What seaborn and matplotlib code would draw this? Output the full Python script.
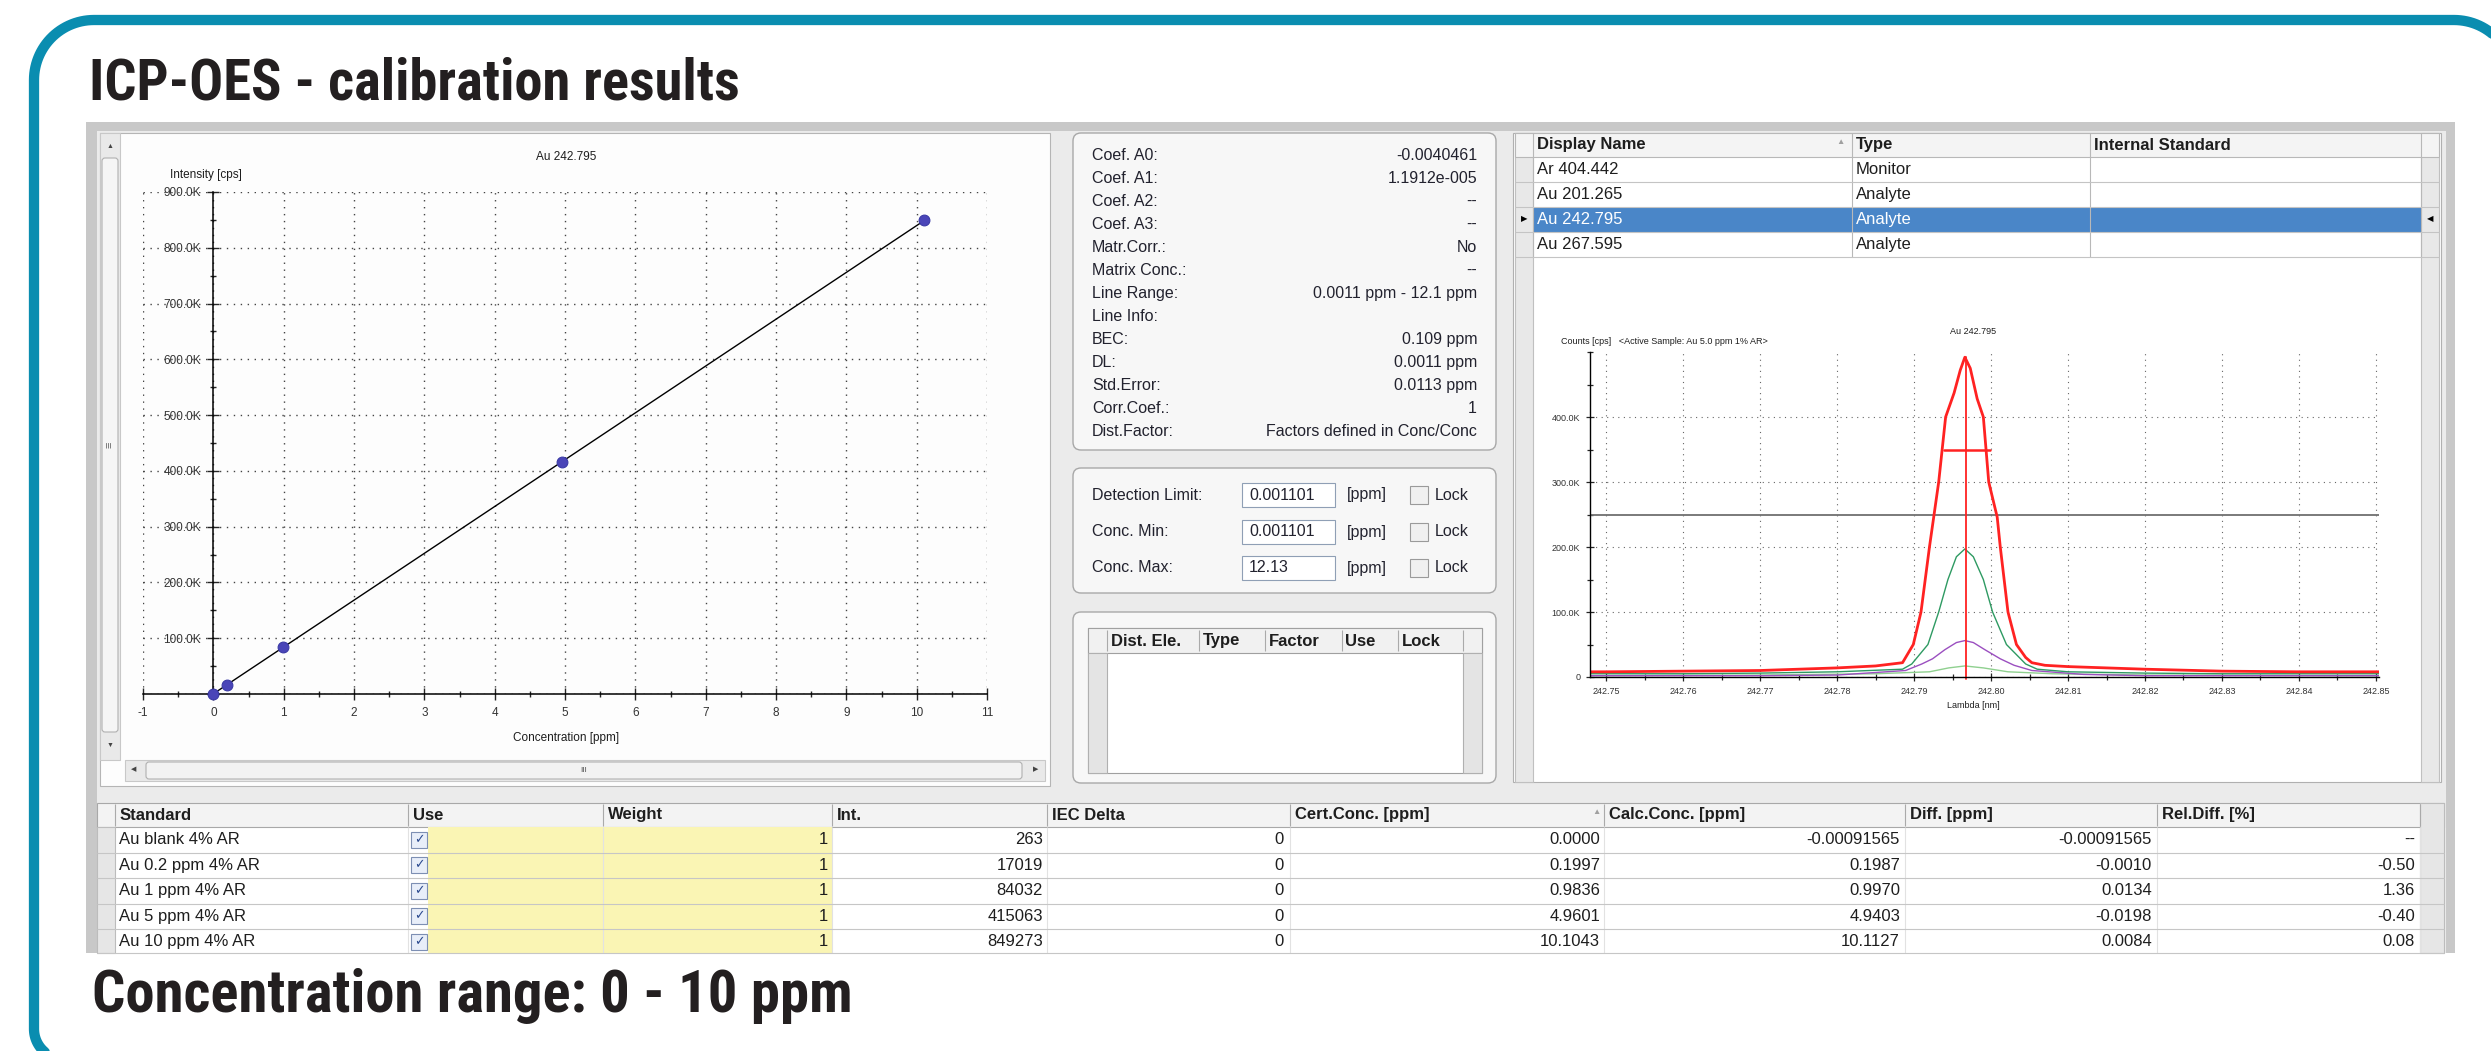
import numpy as np
import matplotlib
matplotlib.use('Agg')
import matplotlib.pyplot as plt
import seaborn as sns
from matplotlib.patches import Rectangle, FancyBboxPatch
from matplotlib.ticker import FuncFormatter
from matplotlib import font_manager

# ---------------- data ----------------
standards = ['Au blank 4% AR', 'Au 0.2 ppm 4% AR', 'Au 1 ppm 4% AR',
             'Au 5 ppm 4% AR', 'Au 10 ppm 4% AR']
weight = [1, 1, 1, 1, 1]
intensity = [263, 17019, 84032, 415063, 849273]
iec_delta = [0, 0, 0, 0, 0]
cert_conc = [0.0000, 0.1997, 0.9836, 4.9601, 10.1043]
calc_conc = [-0.00091565, 0.1987, 0.9970, 4.9403, 10.1127]
diff_ppm = [-0.00091565, -0.0010, 0.0134, -0.0198, 0.0084]
rel_diff = [None, -0.50, 1.36, -0.40, 0.08]

coef_labels = ['Coef. A0:', 'Coef. A1:', 'Coef. A2:', 'Coef. A3:', 'Matr.Corr.:',
               'Matrix Conc.:', 'Line Range:', 'Line Info:', 'BEC:', 'DL:',
               'Std.Error:', 'Corr.Coef.:', 'Dist.Factor:']
coef_values = ['-0.0040461', '1.1912e-005', '--', '--', 'No', '--',
               '0.0011 ppm - 12.1 ppm', '', '0.109 ppm', '0.0011 ppm',
               '0.0113 ppm', '1', 'Factors defined in Conc/Conc']

limit_labels = ['Detection Limit:', 'Conc. Min:', 'Conc. Max:']
limit_values = ['0.001101', '0.001101', '12.13']
dist_headers = ['Dist. Ele.', 'Type', 'Factor', 'Use', 'Lock']

line_names = ['Ar 404.442', 'Au 201.265', 'Au 242.795', 'Au 267.595']
line_types = ['Monitor', 'Analyte', 'Analyte', 'Analyte']
selected_line = 'Au 242.795'

# spectrum of the active sample (wavelength nm, counts in K cps)
lam_red = [242.7479, 242.750, 242.760, 242.770, 242.780, 242.785, 242.7885, 242.7899,
           242.7909, 242.7920, 242.7932, 242.7941, 242.7952, 242.7960, 242.7966, 242.7973,
           242.7982, 242.7990, 242.7997, 242.8008, 242.8012, 242.8022, 242.8033, 242.8045,
           242.8053, 242.8070, 242.810, 242.815, 242.820, 242.830, 242.840, 242.8504]
cnt_red = [8, 8, 9, 10, 14, 17, 22, 50, 100, 200, 300, 400, 437, 472, 492, 475,
           428, 400, 300, 246, 200, 100, 50, 30, 22, 18, 16, 14, 12, 9, 8, 8]
lam_green = [242.7479, 242.760, 242.770, 242.780, 242.7885, 242.7897, 242.7918, 242.7932,
             242.7944, 242.7955, 242.7966, 242.7977, 242.7990, 242.8002, 242.8020, 242.8045,
             242.8060, 242.810, 242.820, 242.830, 242.8504]
cnt_green = [5, 5, 6, 8, 12, 20, 50, 100, 150, 185, 197, 185, 150, 100, 50, 20, 12, 8, 6, 5, 5]
lam_purple = [242.7479, 242.770, 242.780, 242.7889, 242.7910, 242.7924, 242.7940, 242.7955,
              242.7966, 242.7977, 242.7992, 242.8012, 242.8030, 242.8053, 242.812, 242.820,
              242.8504]
cnt_purple = [2, 2, 3, 10, 20, 28, 42, 53, 56, 53, 42, 28, 18, 10, 4, 2, 2]
lam_light = [242.7479, 242.770, 242.7850, 242.7920, 242.7945, 242.7966, 242.7990, 242.8022,
             242.8080, 242.820, 242.8504]
cnt_light = [2, 3, 5, 8, 14, 17, 14, 8, 5, 3, 2]
peak_lambda = 242.7968
peak_top = 492
peak_bar_x = [242.7939, 242.7999]
peak_bar_y = 349
threshold = 249

# ---------------- style ----------------
sns.set_style('white')
plt.rcParams['font.family'] = ['Liberation Sans', 'DejaVu Sans']
plt.rcParams['axes.unicode_minus'] = False

installed = {f.name for f in font_manager.fontManager.ttflist}
narrow = next((n for n in ['Liberation Sans Narrow', 'Roboto Condensed', 'Open Sans Condensed']
               if n in installed), 'Liberation Sans')

W, H = 2491, 1051
fig = plt.figure(figsize=(W / 100, H / 100), dpi=100)
bg = fig.add_axes([0, 0, 1, 1])
bg.set_xlim(0, W)
bg.set_ylim(H, 0)
bg.axis('off')


def box(x0, y0, x1, y1, fc, ec='none', lw=0.8, z=1, r=None):
    if r:
        p = FancyBboxPatch((x0, y0), x1 - x0, y1 - y0, boxstyle=f'round,pad=0,rounding_size={r}',
                           fc=fc, ec=ec, lw=lw, zorder=z)
    else:
        p = Rectangle((x0, y0), x1 - x0, y1 - y0, fc=fc, ec=ec, lw=lw, zorder=z)
    bg.add_patch(p)


def hline(y, x0, x1, c, lw=0.8, z=3):
    bg.plot([x0, x1], [y, y], color=c, lw=lw, zorder=z, solid_capstyle='butt')


def vline(x, y0, y1, c, lw=0.8, z=3):
    bg.plot([x, x], [y0, y1], color=c, lw=lw, zorder=z, solid_capstyle='butt')


def txt(x, y, s, size=11, ha='left', weight='normal', color='#1e1e1e', z=6, **kw):
    return bg.text(x, y, s, fontsize=size, ha=ha, va='center', fontweight=weight,
                   color=color, zorder=z, **kw)


def px_axes(x0, y0, x1, y1):
    a = fig.add_axes([x0 / W, 1 - y1 / H, (x1 - x0) / W, (y1 - y0) / H])
    a.set_facecolor('none')
    return a


def corner(cx, cy, r, a0, a1):
    t = np.linspace(np.radians(a0), np.radians(a1), 30)
    return list(cx + r * np.cos(t)), list(cy - r * np.sin(t))


def fmt_small(v):
    return f'{v:.8f}' if abs(v) < 0.001 else f'{v:.4f}'


# ---------------- frame + headline ----------------
# teal frame: only the top and the left side fall inside the picture
bx, by = [], []
for cx, cy, r, a0, a1 in [(2454, 80, 60, 0, 90), (94, 80, 60, 90, 180), (64, 1029, 30, 180, 270)]:
    xs, ys = corner(cx, cy, r, a0, a1)
    bx += xs
    by += ys
bx = [2514, 2514] + bx + [2600]
by = [1100, 80] + by + [1059]
bg.plot(bx, by, color='#0a8db0', lw=7.4, zorder=2, solid_joinstyle='round')

title = bg.text(89, 100, 'ICP-OES - calibration results', fontsize=40, fontweight='bold',
                family=[narrow, 'DejaVu Sans'], color='#231f20', va='baseline', zorder=6)
footer = bg.text(92, 1012, 'Concentration range: 0 - 10 ppm', fontsize=40, fontweight='bold',
                 family=[narrow, 'DejaVu Sans'], color='#231f20', va='baseline', zorder=6)

# ---------------- screenshot background ----------------
box(86, 122, 2455, 953, '#c8c8c8')
box(97, 131, 2446, 953, '#ebebeb')

# calibration panel
box(100, 133, 1050, 786, '#fdfdfd', ec='#b5b5b5')
box(100, 133, 120, 760, '#e9e9e9', ec='#c8c8c8', z=2)
box(102, 158, 118, 732, '#f5f5f5', ec='#b0b0b0', z=3, r=3)
txt(110, 146, '▲', size=5, ha='center', color='#444')
txt(110, 745, '▼', size=5, ha='center', color='#444')
txt(110, 445, '≡', size=8, ha='center', color='#666', rotation=90)
box(125, 760, 1045, 781, '#e9e9e9', ec='#c8c8c8', z=2)
box(146, 762, 1022, 779, '#f2f2f2', ec='#b0b0b0', z=3, r=3)
txt(134, 770, '◀', size=5, ha='center', color='#444')
txt(1036, 770, '▶', size=5, ha='center', color='#444')
txt(584, 770, 'III', size=6, ha='center', color='#555')
txt(566, 157, 'Au 242.795', size=8.5, ha='center')
txt(170, 175, 'Intensity [cps]', size=8.5)
txt(566, 738, 'Concentration [ppm]', size=8.5, ha='center')

# coefficient panel
box(1073, 133, 1496, 450, '#f7f7f7', ec='#a8a8a8', lw=1, r=8)
for i, (lab, val) in enumerate(zip(coef_labels, coef_values)):
    y = 155 + i * 23.08
    txt(1092, y, lab, size=11.5, color='#22222e')
    txt(1477, y, val, size=11.5, ha='right', color='#22222e')

# limits panel
box(1073, 468, 1496, 593, '#f7f7f7', ec='#a8a8a8', lw=1, r=8)
for y, lab, val in zip([495, 532, 568], limit_labels, limit_values):
    txt(1092, y, lab, size=11.5, color='#22222e')
    box(1242, y - 12, 1335, y + 12, 'white', ec='#8f9fb5', z=3)
    txt(1249, y, val, size=11.5, color='#22222e')
    txt(1347, y, '[ppm]', size=11.5, color='#22222e')
    box(1410, y - 9, 1428, y + 9, '#f0f0f0', ec='#9a9a9a', z=3)
    txt(1435, y, 'Lock', size=11.5, color='#22222e')

# distribution panel
box(1073, 612, 1496, 783, '#f7f7f7', ec='#a8a8a8', lw=1, r=8)
box(1088, 628, 1482, 773, 'white', ec='#a0a0a0', z=2)
box(1088, 628, 1482, 653, '#f1f1f1', ec='#a0a0a0', z=3)
box(1088, 653, 1107, 773, '#e4e4e4', ec='#b0b0b0', z=3)
box(1463, 653, 1482, 773, '#e4e4e4', ec='#b0b0b0', z=3)
for x in [1107, 1199, 1265, 1342, 1398, 1463]:
    vline(x, 630, 651, '#aaaaaa', z=4)
for x, lab in zip([1111, 1203, 1269, 1345, 1402], dist_headers):
    txt(x, 641, lab, size=12, weight='bold')

# line table + spectrum panel
box(1513, 133, 2441, 782, 'white', ec='#b0b0b0')
box(1515, 133, 1533, 782, '#e8e8e8', ec='#c0c0c0', z=2)
box(2421, 133, 2439, 782, '#e8e8e8', ec='#c0c0c0', z=2)
box(1515, 133, 2439, 157, '#f4f4f4', ec='#b8b8b8', z=3)
for x in [1533, 1852, 2090, 2421]:
    vline(x, 133, 257, '#b8b8b8', z=4)
for x, lab in zip([1537, 1856, 2094], ['Display Name', 'Type', 'Internal Standard']):
    txt(x, 145, lab, size=12, weight='bold')
txt(1840, 143, '▲', size=6, ha='center', color='#a0a0a0')
for i, (name, kind) in enumerate(zip(line_names, line_types)):
    top = 157 + 25 * i
    sel = name == selected_line
    if sel:
        box(1533, top, 2421, top + 25, '#4a86c8', z=3)
        txt(1524, top + 12.5, '▶', size=6, ha='center', color='black')
        txt(2430, top + 12.5, '◀', size=6, ha='center', color='black')
    hline(top + 25, 1515, 2439, '#c4c4c4', z=4)
    col = 'white' if sel else '#1e1e1e'
    txt(1537, top + 12.5, name, size=12, color=col)
    txt(1856, top + 12.5, kind, size=12, color=col)
txt(1973, 331, 'Au 242.795', size=6.5, ha='center')
txt(1561, 341, 'Counts [cps]   <Active Sample: Au 5.0 ppm 1% AR>', size=6.5)
txt(1973, 706, 'Lambda [nm]', size=6.5, ha='center')

# standards table
col_edges = [97, 115, 408, 603, 832, 1047, 1290, 1604, 1905, 2157, 2420, 2444]
headers = ['Standard', 'Use', 'Weight', 'Int.', 'IEC Delta', 'Cert.Conc. [ppm]',
           'Calc.Conc. [ppm]', 'Diff. [ppm]', 'Rel.Diff. [%]']
box(97, 803, 2444, 953, 'white')
box(97, 803, 2444, 827, '#f3f3f3', ec='#a8a8a8', z=2)
box(97, 827, 115, 953, '#e6e6e6', ec='#bcbcbc', z=2)
box(2420, 803, 2444, 953, '#e6e6e6', ec='#bcbcbc', z=2)
for x in col_edges[1:-1]:
    vline(x, 804, 826, '#aaaaaa', z=4)
for x0, lab in zip(col_edges[1:], headers):
    txt(x0 + 5, 815, lab, size=12, weight='bold')
txt(1596, 813, '▲', size=6, ha='center', color='#a0a0a0')
for i in range(len(standards)):
    top = 827 + 25.5 * i
    bot = min(top + 25.5, 953)
    y = top + 12.75
    box(428, top, 832, bot, '#faf5b4', z=2)
    for x in col_edges[2:-1]:
        vline(x, top, bot, '#e2e2e2', z=3)
    hline(bot, 97, 2444, '#c6c6c6', z=4)
    box(411, y - 8, 427, y + 8, '#e8eef9', ec='#7d8fb3', z=4)
    txt(419, y, '✓', size=9, ha='center', weight='bold', color='#2b4a8f')
    txt(119, y, standards[i], size=12)
    txt(828, y, str(weight[i]), size=12, ha='right')
    txt(1043, y, str(intensity[i]), size=12, ha='right')
    txt(1284, y, str(iec_delta[i]), size=12, ha='right')
    txt(1600, y, f'{cert_conc[i]:.4f}', size=12, ha='right')
    txt(1900, y, fmt_small(calc_conc[i]), size=12, ha='right')
    txt(2152, y, fmt_small(diff_ppm[i]), size=12, ha='right')
    txt(2415, y, '--' if rel_diff[i] is None else f'{rel_diff[i]:.2f}', size=12, ha='right')

# ---------------- calibration curve ----------------
cal = px_axes(143, 192, 987, 694)
sns.lineplot(x=calc_conc, y=intensity, ax=cal, color='black', linewidth=1.0,
             sort=False, estimator=None, clip_on=False)
sns.scatterplot(x=cert_conc, y=intensity, ax=cal, s=60, color='#4a45b8', edgecolor='#3b3aa6',
                linewidth=0.8, zorder=5, clip_on=False)
cal.set_xlim(-1, 11)
cal.set_ylim(0, 900000)
cal.set_xticks(range(-1, 12))
cal.set_xticks(np.arange(-1, 11.01, 0.5), minor=True)
cal.set_yticks(range(0, 900001, 100000))
cal.set_yticks(range(0, 900001, 50000), minor=True)
cal.yaxis.set_major_formatter(FuncFormatter(lambda v, p: '' if v == 0 else f'{v / 1000:.1f}K'))
cal.spines['left'].set_position(('data', 0))
for s in ['top', 'right']:
    cal.spines[s].set_visible(False)
for s in ['left', 'bottom']:
    cal.spines[s].set_color('black')
    cal.spines[s].set_linewidth(1.1)
cal.tick_params(which='major', direction='inout', length=8, width=1, labelsize=8.5,
                labelcolor='#333333', pad=5, left=True, bottom=True)
cal.tick_params(which='minor', direction='inout', length=5, width=1, left=True, bottom=True)
cal.grid(True, which='major', linestyle=(0, (1, 4)), color='#444444', linewidth=1.0)
cal.set_xlabel('')
cal.set_ylabel('')

# ---------------- spectrum ----------------
spec = px_axes(1590, 352, 2379, 677)
for lam, cnt, c, lw in [(lam_light, cnt_light, '#8fd08f', 1.0),
                        (lam_purple, cnt_purple, '#9b4fc0', 1.0),
                        (lam_green, cnt_green, '#2e9a62', 1.0),
                        (lam_red, cnt_red, '#ff2222', 2.0)]:
    sns.lineplot(x=lam, y=[v * 1000 for v in cnt], ax=spec, color=c, linewidth=lw,
                 sort=False, estimator=None)
spec.axhline(threshold * 1000, color='#707070', lw=1.3, zorder=1)
spec.plot([peak_lambda, peak_lambda], [-3000, peak_top * 1000], color='#ff2222', lw=1.3,
          clip_on=False)
spec.plot(peak_bar_x, [peak_bar_y * 1000] * 2, color='#ff2222', lw=1.8)
spec.set_xlim(242.7479, 242.8504)
spec.set_ylim(0, 500000)
spec.set_xticks(np.round(np.arange(242.75, 242.8501, 0.01), 2))
spec.set_xticks(np.arange(242.75, 242.8501, 0.005), minor=True)
spec.xaxis.set_major_formatter(FuncFormatter(lambda v, p: f'{v:.2f}'))
spec.set_yticks(range(0, 400001, 100000))
spec.set_yticks(range(0, 500001, 50000), minor=True)
spec.yaxis.set_major_formatter(FuncFormatter(lambda v, p: '0' if v == 0 else f'{v / 1000:.1f}K'))
for s in ['top', 'right']:
    spec.spines[s].set_visible(False)
for s in ['left', 'bottom']:
    spec.spines[s].set_color('black')
    spec.spines[s].set_linewidth(1.0)
spec.tick_params(which='major', direction='inout', length=6, width=0.9, labelsize=6.5,
                 labelcolor='#333333', pad=4, left=True, bottom=True)
spec.tick_params(which='minor', direction='inout', length=4, width=0.9, left=True, bottom=True)
spec.grid(True, which='major', linestyle=(0, (1, 4)), color='#666666', linewidth=0.8)
spec.set_xlabel('')
spec.set_ylabel('')

# fit the condensed headline texts to their width in the original
fig.canvas.draw()
rend = fig.canvas.get_renderer()
for t, target in [(title, 650), (footer, 760)]:
    w = t.get_window_extent(renderer=rend).width
    t.set_fontsize(t.get_fontsize() * target / w)

fig.savefig('out.png', dpi=100)
